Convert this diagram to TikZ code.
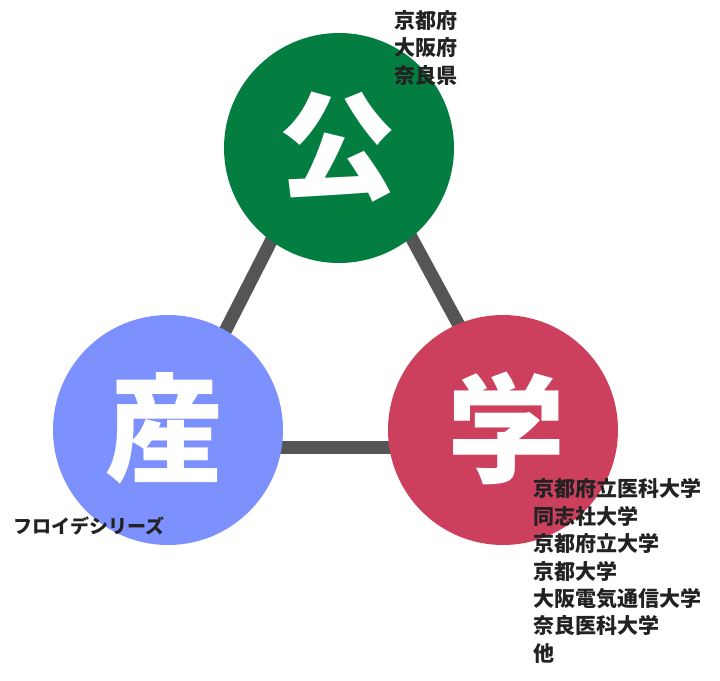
\documentclass[tikz,border=0pt]{standalone}
\usepackage{fontspec}
\newfontfamily\cjk{Noto Sans CJK JP}
\definecolor{kogreen}{RGB}{4,125,64}
\definecolor{sanblue}{RGB}{124,144,254}
\definecolor{gakured}{RGB}{204,64,94}
\definecolor{linkgray}{RGB}{85,85,85}
\definecolor{labeltext}{RGB}{34,34,34}
\begin{document}
\begin{tikzpicture}[x=1pt,y=-1pt,
  hub/.style={circle,minimum size=230pt,inner sep=0pt,draw=none},
  bigchar/.style={text=white,font=\cjk\bfseries\fontsize{118}{118}\selectfont,inner sep=0pt},
  link/.style={draw=linkgray,line width=13pt},
  lbl/.style={text=labeltext,font=\cjk\bfseries\fontsize{21}{21}\selectfont,inner sep=0pt,anchor=base west},
  lblk/.style={text=labeltext,font=\cjk\bfseries\fontsize{19}{19}\selectfont,inner sep=0pt,anchor=base west}]
\useasboundingbox (0,0) rectangle (720,680);
% connector corners
\coordinate (tA) at (340,106);
\coordinate (tB) at (166,447);
\coordinate (tC) at (525,447);
\draw[link] (tA) -- (tB);
\draw[link] (tA) -- (tC);
\draw[link] (tB) -- (tC);
% hubs
\node[hub,fill=kogreen] (ko) at (339,148) {};
\node[hub,fill=sanblue] (san) at (168,430) {};
\node[hub,fill=gakured] (gaku) at (503,430) {};
\node[bigchar] (kochar) at (337,147) {公};
\node[bigchar] (sanchar) at (164,428) {産};
\node[bigchar] (gakuchar) at (506,428) {学};
% labels
\node[lbl] (k1) at (394,28) {京都府};
\node[lbl] (k2) at (394,55.5) {大阪府};
\node[lbl] (k3) at (394,83) {奈良県};
\node[lblk] (s1) at (13,533) {フロイデシリーズ};
\node[lbl] (g1) at (533,496.5) {京都府立医科大学};
\node[lbl] (g2) at (533,524) {同志社大学};
\node[lbl] (g3) at (533,551.5) {京都府立大学};
\node[lbl] (g4) at (533,579) {京都大学};
\node[lbl] (g5) at (533,606.5) {大阪電気通信大学};
\node[lbl] (g6) at (533,633.5) {奈良医科大学};
\node[lbl] (g7) at (533,661) {他};
\end{tikzpicture}
\end{document}
